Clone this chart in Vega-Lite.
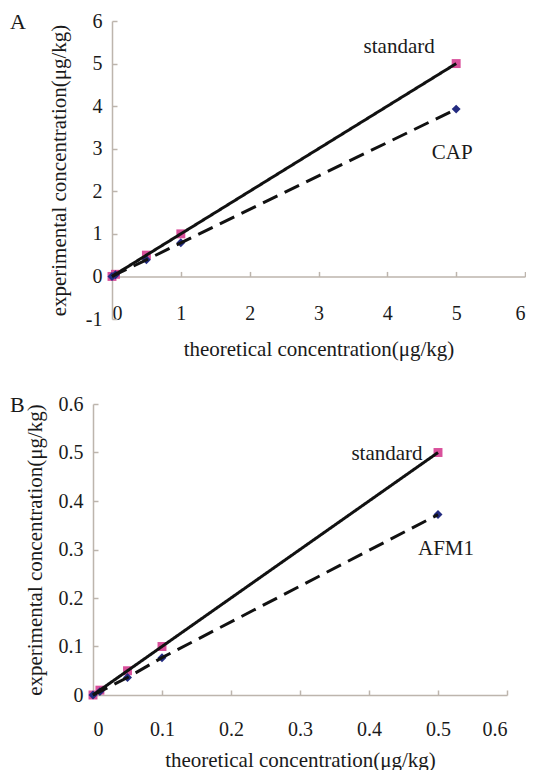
{
  "$schema": "https://vega.github.io/schema/vega-lite/v6.json",
  "background": "white",
  "padding": {"left": 10, "top": 11, "right": 0, "bottom": 0},
  "config": {
    "view": {"stroke": null},
    "font": "Liberation Serif",
    "axis": {
      "grid": false,
      "domainColor": "#bdb5ad",
      "domainWidth": 1.5,
      "tickColor": "#bdb5ad",
      "tickWidth": 1.5,
      "tickSize": -5,
      "labelFont": "Liberation Serif",
      "labelFontSize": 20,
      "labelColor": "#1a1a1a",
      "titleFont": "Liberation Serif",
      "titleFontSize": 21,
      "titleFontWeight": "normal",
      "titleColor": "#1a1a1a"
    },
    "title": {"font": "Liberation Serif", "fontWeight": "normal", "fontSize": 22, "color": "#1a1a1a"}
  },
  "concat": [
    {
      "width": 432,
      "height": 298,
      "title": {"text": "A", "anchor": "start", "frame": "group", "dx": -83, "dy": 33, "offset": 0, "baseline": "middle"},
      "data": {"values": [
        {"theoretical": 0, "experimental": 0, "series": "standard"},
        {"theoretical": 0.05, "experimental": 0.05, "series": "standard"},
        {"theoretical": 0.5, "experimental": 0.5, "series": "standard"},
        {"theoretical": 1, "experimental": 1, "series": "standard"},
        {"theoretical": 5, "experimental": 5, "series": "standard"},
        {"theoretical": 0, "experimental": 0, "series": "CAP"},
        {"theoretical": 0.05, "experimental": 0.04, "series": "CAP"},
        {"theoretical": 0.5, "experimental": 0.39, "series": "CAP"},
        {"theoretical": 1, "experimental": 0.79, "series": "CAP"},
        {"theoretical": 5, "experimental": 3.93, "series": "CAP"}
      ]},
      "encoding": {
        "x": {"field": "theoretical", "type": "quantitative",
          "scale": {"domain": [0, 6], "nice": false, "zero": false, "range": [19, 432]},
          "axis": {"title": "theoretical concentration(μg/kg)", "values": [0, 1, 2, 3, 4, 5, 6], "offset": -42.57, "labelPadding": 32, "titlePadding": 15}},
        "y": {"field": "experimental", "type": "quantitative",
          "scale": {"domain": [-1, 6], "nice": false, "zero": false},
          "axis": {"title": "experimental concentration(μg/kg)", "values": [-1, 0, 1, 2, 3, 4, 5, 6], "labelExpr": "'' + datum.value", "offset": -19, "labelPadding": 15, "titlePadding": 16}}
      },
      "layer": [
        {"mark": {"type": "point", "filled": true, "opacity": 1},
          "encoding": {
            "color": {"field": "series", "type": "nominal", "scale": {"domain": ["standard", "CAP"], "range": ["#d9509b", "#232b80"]}, "legend": null},
            "shape": {"field": "series", "type": "nominal", "scale": {"domain": ["standard", "CAP"], "range": ["square", "diamond"]}, "legend": null},
            "size": {"value": 80}
          }},
        {"mark": {"type": "line", "color": "#111111", "strokeWidth": 3},
          "encoding": {
            "strokeDash": {"field": "series", "type": "nominal", "scale": {"domain": ["standard", "CAP"], "range": [[1, 0], [16, 8]]}, "legend": null}
          }},
        {"transform": [{"filter": "datum.series == 'standard' && datum.theoretical == 5"}],
          "mark": {"type": "text", "dx": -57, "dy": -17, "fontSize": 21, "font": "Liberation Serif", "color": "#1a1a1a"},
          "encoding": {"text": {"field": "series"}}},
        {"transform": [{"filter": "datum.series == 'CAP' && datum.theoretical == 5"}],
          "mark": {"type": "text", "dx": -4, "dy": 44, "fontSize": 21, "font": "Liberation Serif", "color": "#1a1a1a"},
          "encoding": {"text": {"field": "series"}}}
      ]
    },
    {
      "width": 414,
      "height": 291,
      "title": {"text": "B", "anchor": "start", "frame": "group", "dx": -83, "dy": 33, "offset": 0, "baseline": "middle"},
      "data": {"values": [
        {"theoretical": 0, "experimental": 0, "series": "standard"},
        {"theoretical": 0.01, "experimental": 0.01, "series": "standard"},
        {"theoretical": 0.05, "experimental": 0.05, "series": "standard"},
        {"theoretical": 0.1, "experimental": 0.1, "series": "standard"},
        {"theoretical": 0.5, "experimental": 0.5, "series": "standard"},
        {"theoretical": 0, "experimental": 0, "series": "AFM1"},
        {"theoretical": 0.01, "experimental": 0.007, "series": "AFM1"},
        {"theoretical": 0.05, "experimental": 0.036, "series": "AFM1"},
        {"theoretical": 0.1, "experimental": 0.077, "series": "AFM1"},
        {"theoretical": 0.5, "experimental": 0.372, "series": "AFM1"}
      ]},
      "encoding": {
        "x": {"field": "theoretical", "type": "quantitative",
          "scale": {"domain": [0, 0.6], "nice": false, "zero": false},
          "axis": {"title": "theoretical concentration(μg/kg)", "values": [0, 0.1, 0.2, 0.3, 0.4, 0.5, 0.6], "format": "~g", "labelPadding": 29, "titlePadding": 10}},
        "y": {"field": "experimental", "type": "quantitative",
          "scale": {"domain": [0, 0.6], "nice": false, "zero": false},
          "axis": {"title": "experimental concentration(μg/kg)", "values": [0, 0.1, 0.2, 0.3, 0.4, 0.5, 0.6], "format": "~g", "labelPadding": 15, "titlePadding": 13}}
      },
      "layer": [
        {"mark": {"type": "point", "filled": true, "opacity": 1},
          "encoding": {
            "color": {"field": "series", "type": "nominal", "scale": {"domain": ["standard", "AFM1"], "range": ["#d9509b", "#232b80"]}, "legend": null},
            "shape": {"field": "series", "type": "nominal", "scale": {"domain": ["standard", "AFM1"], "range": ["square", "diamond"]}, "legend": null},
            "size": {"value": 80}
          }},
        {"mark": {"type": "line", "color": "#111111", "strokeWidth": 3},
          "encoding": {
            "strokeDash": {"field": "series", "type": "nominal", "scale": {"domain": ["standard", "AFM1"], "range": [[1, 0], [16, 8]]}, "legend": null}
          }},
        {"transform": [{"filter": "datum.series == 'standard' && datum.theoretical == 0.5"}],
          "mark": {"type": "text", "dx": -51, "dy": 1, "fontSize": 21, "font": "Liberation Serif", "color": "#1a1a1a"},
          "encoding": {"text": {"field": "series"}}},
        {"transform": [{"filter": "datum.series == 'AFM1' && datum.theoretical == 0.5"}],
          "mark": {"type": "text", "dx": 8, "dy": 34, "fontSize": 21, "font": "Liberation Serif", "color": "#1a1a1a"},
          "encoding": {"text": {"field": "series"}}}
      ]
    }
  ],
  "columns": 1,
  "align": "none",
  "spacing": {"row": 34, "column": 0},
  "resolve": {"scale": {"x": "independent", "y": "independent", "color": "independent", "shape": "independent", "strokeDash": "independent"}}
}
